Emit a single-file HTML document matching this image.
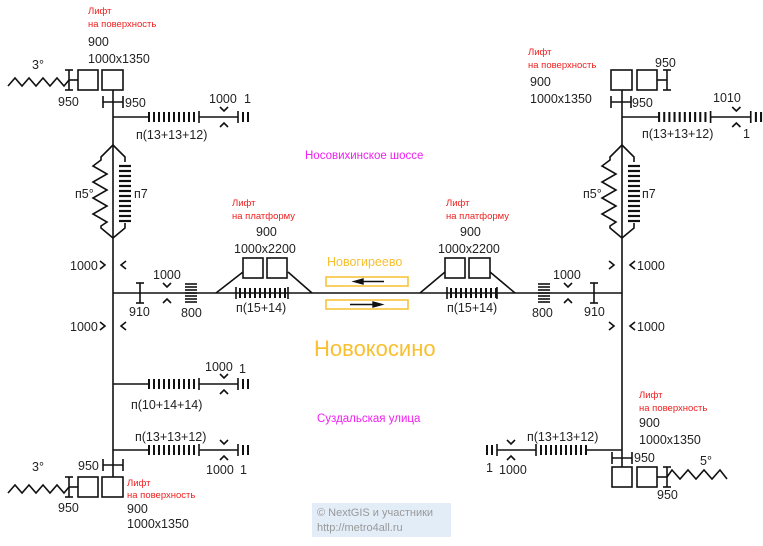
<!DOCTYPE html>
<html><head><meta charset="utf-8"><style>
html,body{margin:0;padding:0;background:#fff;width:763px;height:546px;overflow:hidden}
svg{display:block}
text{font-family:"Liberation Sans",sans-serif;font-size:12.5px;fill:#222}
.r{fill:#f02020;font-size:9.5px}
.m{fill:#f020f0;font-size:11.5px}
.y{fill:#f8c030}
</style></head><body>
<svg width="763" height="546" viewBox="0 0 763 546" xmlns="http://www.w3.org/2000/svg">
<defs>
<g id="hatch" stroke="#111" stroke-width="2">
<line x1="0" y1="-5" x2="0" y2="5"/><line x1="5" y1="-5" x2="5" y2="5"/><line x1="10" y1="-5" x2="10" y2="5"/><line x1="15" y1="-5" x2="15" y2="5"/><line x1="20" y1="-5" x2="20" y2="5"/><line x1="25" y1="-5" x2="25" y2="5"/><line x1="30" y1="-5" x2="30" y2="5"/><line x1="35" y1="-5" x2="35" y2="5"/><line x1="40" y1="-5" x2="40" y2="5"/><line x1="45" y1="-5" x2="45" y2="5"/>
</g>
<g id="cross" fill="none" stroke="#111" stroke-width="1.6">
<polyline points="-4,-10 0,-6 4,-10"/><polyline points="-4,10 0,6 4,10"/>
</g>
<g id="vchev" fill="none" stroke="#111" stroke-width="1.6">
<polyline points="-13,-4 -8,0 -13,4"/><polyline points="13,-4 8,0 13,4"/>
</g>
<g id="diam" fill="none" stroke="#111" stroke-width="1.6">
<polyline points="0,0 -12,12 -12,15 -20,21 -6,29 -20,37 -6,45 -20,53 -6,61 -20,69 -6,77 -12,81 -12,83 0,93"/>
<polyline points="0,0 12,12 12,17"/>
<polyline points="12,78 12,83 0,93"/>
<g stroke-width="2.2">
<line x1="6" y1="21" x2="18" y2="21"/><line x1="6" y1="26" x2="18" y2="26"/><line x1="6" y1="31" x2="18" y2="31"/><line x1="6" y1="36" x2="18" y2="36"/><line x1="6" y1="41" x2="18" y2="41"/><line x1="6" y1="46" x2="18" y2="46"/><line x1="6" y1="51" x2="18" y2="51"/><line x1="6" y1="56" x2="18" y2="56"/><line x1="6" y1="61" x2="18" y2="61"/><line x1="6" y1="66" x2="18" y2="66"/><line x1="6" y1="71" x2="18" y2="71"/><line x1="6" y1="76" x2="18" y2="76"/>
</g>
</g>
<g id="branchR" fill="none" stroke="#111" stroke-width="1.6">
<line x1="0" y1="0" x2="36" y2="0"/>
<use href="#hatch" x="36"/>
<line x1="86" y1="-6" x2="86" y2="6"/>
<line x1="86" y1="0" x2="125" y2="0"/>
<line x1="125" y1="-6" x2="125" y2="6"/>
<use href="#cross" x="111"/>
<line x1="130" y1="-5" x2="130" y2="5" stroke-width="2"/><line x1="135" y1="-5" x2="135" y2="5" stroke-width="2"/>
</g>
<g id="hbar" fill="none" stroke="#111" stroke-width="1.6">
<line x1="-10" y1="0" x2="10" y2="0"/><line x1="-10" y1="-6" x2="-10" y2="6"/><line x1="10" y1="-6" x2="10" y2="6"/>
</g>
<g id="ibeam" fill="none" stroke="#111" stroke-width="1.6">
<line x1="0" y1="0" x2="0" y2="20"/><line x1="-4" y1="0" x2="4" y2="0"/><line x1="-4" y1="20" x2="4" y2="20"/>
</g>
</defs>

<g fill="none" stroke="#111" stroke-width="1.6">
<line x1="113" y1="90" x2="113" y2="477"/>
<line x1="622" y1="90" x2="622" y2="467"/>
<line x1="113" y1="293" x2="622" y2="293"/>
<!-- top-left -->
<rect x="78" y="70" width="20" height="20"/><rect x="102" y="70" width="21" height="20"/>
<use href="#ibeam" x="69" y="70"/><line x1="69" y1="80" x2="78" y2="80"/>
<polyline points="8,86 15,78 22,86 29,78 36,86 43,78 50,86 57,78 64,86 69,80"/>
<use href="#hbar" x="113" y="102"/>
<use href="#branchR" x="113" y="117"/>
<use href="#diam" x="113" y="145"/>
<!-- top-right -->
<rect x="611" y="70" width="21" height="20"/><rect x="637" y="70" width="20" height="20"/>
<use href="#ibeam" x="667" y="70"/><line x1="657" y1="80" x2="667" y2="80"/>
<use href="#hbar" x="621" y="102"/>
<g transform="translate(622,117) scale(1.03,1)"><use href="#branchR"/></g>
<use href="#diam" x="622" y="145"/>
<use href="#vchev" x="113" y="265"/><use href="#vchev" x="113" y="326"/>
<use href="#vchev" x="622" y="265"/><use href="#vchev" x="622" y="326"/>
<!-- left platform -->
<use href="#ibeam" x="140" y="283"/>
<use href="#cross" x="167" y="293"/>
<g stroke-width="1.6"><line x1="185" y1="284" x2="197" y2="284"/><line x1="185" y1="287" x2="197" y2="287"/><line x1="185" y1="290" x2="197" y2="290"/><line x1="185" y1="293" x2="197" y2="293"/><line x1="185" y1="296" x2="197" y2="296"/><line x1="185" y1="299" x2="197" y2="299"/><line x1="185" y1="302" x2="197" y2="302"/></g>
<polyline points="216,293 243,272"/><polyline points="288,272 312,293"/>
<rect x="243" y="258" width="20" height="20"/><rect x="267" y="258" width="20" height="20"/>
<line x1="236" y1="287" x2="236" y2="299"/><use href="#hatch" x="240" y="293"/><line x1="288" y1="287" x2="288" y2="299"/>
<!-- right platform -->
<polyline points="420,293 445,272"/><polyline points="490,272 515,293"/>
<rect x="445" y="258" width="20" height="20"/><rect x="469" y="258" width="21" height="20"/>
<line x1="447" y1="287" x2="447" y2="299"/><use href="#hatch" x="451" y="293"/><line x1="497" y1="287" x2="497" y2="299"/>
<g stroke-width="1.6"><line x1="538" y1="284" x2="550" y2="284"/><line x1="538" y1="287" x2="550" y2="287"/><line x1="538" y1="290" x2="550" y2="290"/><line x1="538" y1="293" x2="550" y2="293"/><line x1="538" y1="296" x2="550" y2="296"/><line x1="538" y1="299" x2="550" y2="299"/><line x1="538" y1="302" x2="550" y2="302"/></g>
<use href="#cross" x="568" y="293"/>
<use href="#ibeam" x="594" y="283"/>
<!-- bottom-left -->
<use href="#branchR" x="113" y="384"/>
<use href="#branchR" x="113" y="450"/>
<use href="#hbar" x="113" y="465"/>
<rect x="78" y="477" width="20" height="20"/><rect x="102" y="477" width="21" height="20"/>
<use href="#ibeam" x="69" y="477"/><line x1="69" y1="487" x2="78" y2="487"/>
<polyline points="8,493 15,485 22,493 29,485 36,493 43,485 50,493 57,485 64,493 69,487"/>
<!-- bottom-right -->
<g transform="translate(622,450) scale(-1,1)"><use href="#branchR"/></g>
<use href="#hbar" x="622" y="458"/>
<rect x="612" y="467" width="20" height="20"/><rect x="637" y="467" width="20" height="20"/>
<use href="#ibeam" x="667" y="467"/><line x1="657" y1="477" x2="667" y2="477"/>
<polyline points="667,477 672,470 680,479 688,470 696,479 704,470 712,479 720,470 727,479"/>
</g>

<g fill="none" stroke="#f8c030" stroke-width="1.5">
<rect x="326" y="277" width="82" height="9"/><rect x="326" y="300" width="82" height="9"/>
</g>
<g stroke="#111" stroke-width="1.4" fill="#111">
<line x1="356" y1="281.5" x2="384" y2="281.5"/><polygon points="354,281.5 363,279 363,284"/>
<line x1="350" y1="304.5" x2="378" y2="304.5"/><polygon points="382,304.5 373,302 373,307"/>
</g>

<text class="r" x="88" y="14">Лифт</text><text class="r" x="88" y="27">на поверхность</text>
<text x="88" y="46">900</text><text x="88" y="63">1000x1350</text>
<text x="32" y="69">3°</text><text x="58" y="106">950</text><text x="125" y="107">950</text>
<text x="209" y="103">1000</text><text x="244" y="103">1</text>
<text x="136" y="139">п(13+13+12)</text>
<text x="75" y="198">п5°</text><text x="134" y="198">п7</text>
<text class="m" x="305" y="159">Носовихинское шоссе</text>

<text class="r" x="528" y="55">Лифт</text><text class="r" x="528" y="68">на поверхность</text>
<text x="530" y="86">900</text><text x="530" y="103">1000x1350</text>
<text x="655" y="67">950</text><text x="632" y="107">950</text>
<text x="713" y="102">1010</text><text x="743" y="138">1</text>
<text x="642" y="138">п(13+13+12)</text>
<text x="583" y="198">п5°</text><text x="642" y="198">п7</text>

<text x="70" y="270">1000</text><text x="70" y="331">1000</text>
<text x="637" y="270">1000</text><text x="637" y="331">1000</text>

<text class="r" x="232" y="206">Лифт</text><text class="r" x="232" y="219">на платформу</text>
<text x="256" y="236">900</text><text x="234" y="253">1000x2200</text>
<text x="153" y="279">1000</text><text x="129" y="316">910</text><text x="181" y="317">800</text>
<text x="236" y="312">п(15+14)</text>

<text class="r" x="446" y="206">Лифт</text><text class="r" x="446" y="219">на платформу</text>
<text x="460" y="236">900</text><text x="438" y="253">1000x2200</text>
<text x="553" y="279">1000</text><text x="584" y="316">910</text><text x="532" y="317">800</text>
<text x="447" y="312">п(15+14)</text>

<text class="y" x="327" y="266" style="font-size:12.5px">Новогиреево</text>
<text class="y" x="314" y="356" style="font-size:22px">Новокосино</text>

<text x="205" y="371">1000</text><text x="239" y="373">1</text>
<text x="131" y="409">п(10+14+14)</text>
<text x="135" y="441">п(13+13+12)</text>
<text x="206" y="474">1000</text><text x="240" y="474">1</text>
<text x="78" y="470">950</text><text x="32" y="471">3°</text><text x="58" y="512">950</text>
<text class="r" x="127" y="486">Лифт</text><text class="r" x="127" y="498">на поверхность</text>
<text x="127" y="513">900</text><text x="127" y="528">1000x1350</text>
<text class="m" x="317" y="422">Суздальская улица</text>

<text class="r" x="639" y="398">Лифт</text><text class="r" x="639" y="411">на поверхность</text>
<text x="639" y="427">900</text><text x="639" y="444">1000x1350</text>
<text x="527" y="441">п(13+13+12)</text>
<text x="486" y="472">1</text><text x="499" y="474">1000</text>
<text x="634" y="462">950</text><text x="700" y="465">5°</text><text x="657" y="499">950</text>

<rect x="312" y="503" width="139" height="34" fill="#e3edf8"/>
<text x="317" y="516" style="fill:#999;font-size:11px">© NextGIS и участники</text>
<text x="317" y="531" style="fill:#999;font-size:11px">http://metro4all.ru</text>
</svg>
</body></html>
